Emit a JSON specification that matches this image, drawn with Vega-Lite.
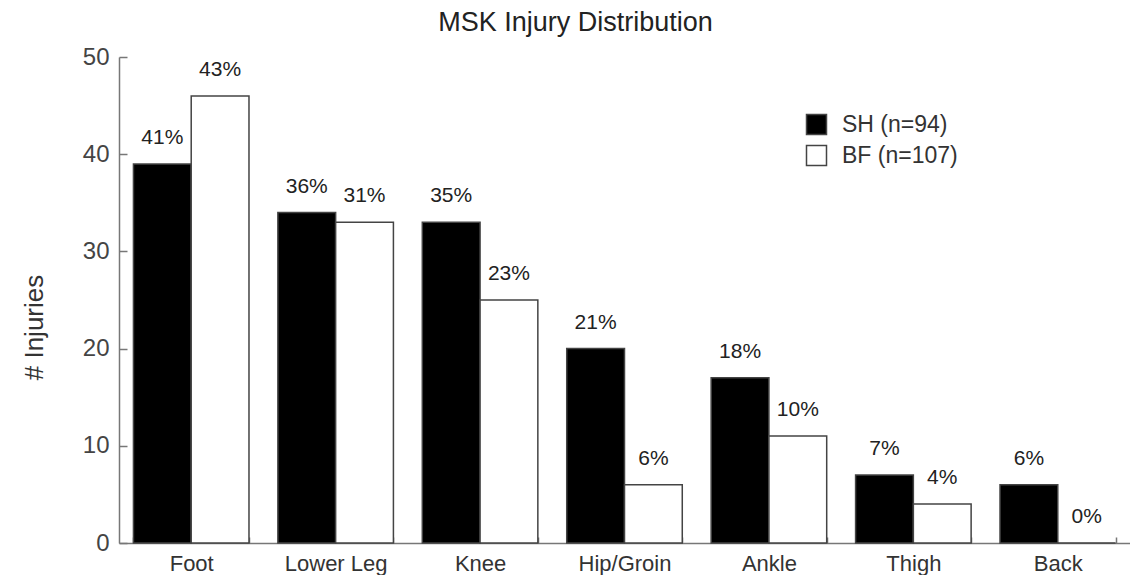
{
  "$schema": "https://vega.github.io/schema/vega-lite/v6.json",
  "autosize": "none",
  "width": 1011,
  "height": 486,
  "padding": {"left": 119, "top": 57, "right": 0, "bottom": 32},
  "background": "white",
  "title": {
    "text": "MSK Injury Distribution",
    "font": "Liberation Sans",
    "fontSize": 27,
    "fontWeight": "normal",
    "color": "#222",
    "anchor": "middle",
    "frame": "bounds",
    "offset": 8
  },
  "config": {
    "view": {"stroke": null},
    "font": "Liberation Sans"
  },
  "data": {
    "values": [
      {"part": "Foot", "series": "SH (n=94)", "count": 39, "pct": "41%"},
      {"part": "Foot", "series": "BF (n=107)", "count": 46, "pct": "43%"},
      {"part": "Lower Leg", "series": "SH (n=94)", "count": 34, "pct": "36%"},
      {"part": "Lower Leg", "series": "BF (n=107)", "count": 33, "pct": "31%"},
      {"part": "Knee", "series": "SH (n=94)", "count": 33, "pct": "35%"},
      {"part": "Knee", "series": "BF (n=107)", "count": 25, "pct": "23%"},
      {"part": "Hip/Groin", "series": "SH (n=94)", "count": 20, "pct": "21%"},
      {"part": "Hip/Groin", "series": "BF (n=107)", "count": 6, "pct": "6%"},
      {"part": "Ankle", "series": "SH (n=94)", "count": 17, "pct": "18%"},
      {"part": "Ankle", "series": "BF (n=107)", "count": 11, "pct": "10%"},
      {"part": "Thigh", "series": "SH (n=94)", "count": 7, "pct": "7%"},
      {"part": "Thigh", "series": "BF (n=107)", "count": 4, "pct": "4%"},
      {"part": "Back", "series": "SH (n=94)", "count": 6, "pct": "6%"},
      {"part": "Back", "series": "BF (n=107)", "count": 0, "pct": "0%"}
    ]
  },
  "encoding": {
    "x": {
      "field": "part",
      "type": "nominal",
      "sort": ["Foot", "Lower Leg", "Knee", "Hip/Groin", "Ankle", "Thigh", "Back"],
      "scale": {"paddingInner": 0.2, "paddingOuter": 0.1},
      "axis": {
        "title": null,
        "labelAngle": 0,
        "labelFontSize": 22,
        "labelColor": "#333",
        "labelPadding": 16,
        "tickBand": "extent",
        "tickSize": -6,
        "tickColor": "#777",
        "tickWidth": 1.5,
        "domainColor": "#777",
        "domainWidth": 1.5
      }
    },
    "xOffset": {
      "field": "series",
      "type": "nominal",
      "sort": ["SH (n=94)", "BF (n=107)"],
      "scale": {"paddingInner": 0, "paddingOuter": 0}
    }
  },
  "layer": [
    {
      "mark": {"type": "bar", "stroke": "#444", "strokeWidth": 1.5},
      "encoding": {
        "y": {
          "field": "count",
          "type": "quantitative",
          "scale": {"domain": [0, 50], "nice": false},
          "axis": {
            "title": "# Injuries",
            "titleFontSize": 26,
            "titleFontWeight": "normal",
            "titleColor": "#333",
            "titleX": -85,
            "titleY": 270,
            "titleBaseline": "middle",
            "values": [0, 10, 20, 30, 40, 50],
            "grid": false,
            "labelFontSize": 24,
            "labelColor": "#444",
            "labelPadding": 18,
            "tickSize": -8,
            "tickColor": "#777",
            "tickWidth": 1.5,
            "domainColor": "#777",
            "domainWidth": 1.5
          }
        },
        "fill": {
          "field": "series",
          "type": "nominal",
          "scale": {"domain": ["SH (n=94)", "BF (n=107)"], "range": ["#000000", "#ffffff"]},
          "legend": {
            "title": null,
            "orient": "none",
            "legendX": 686,
            "legendY": 56,
            "padding": 0,
            "symbolType": "square",
            "symbolSize": 400,
            "symbolStrokeColor": "#444",
            "symbolStrokeWidth": 1.5,
            "labelFontSize": 23,
            "labelColor": "#333",
            "labelOffset": 14,
            "rowPadding": 4
          }
        }
      }
    },
    {
      "mark": {"type": "text", "baseline": "middle", "dy": -26, "fontSize": 21, "color": "#222"},
      "encoding": {
        "y": {"field": "count", "type": "quantitative"},
        "text": {"field": "pct"}
      }
    }
  ]
}
